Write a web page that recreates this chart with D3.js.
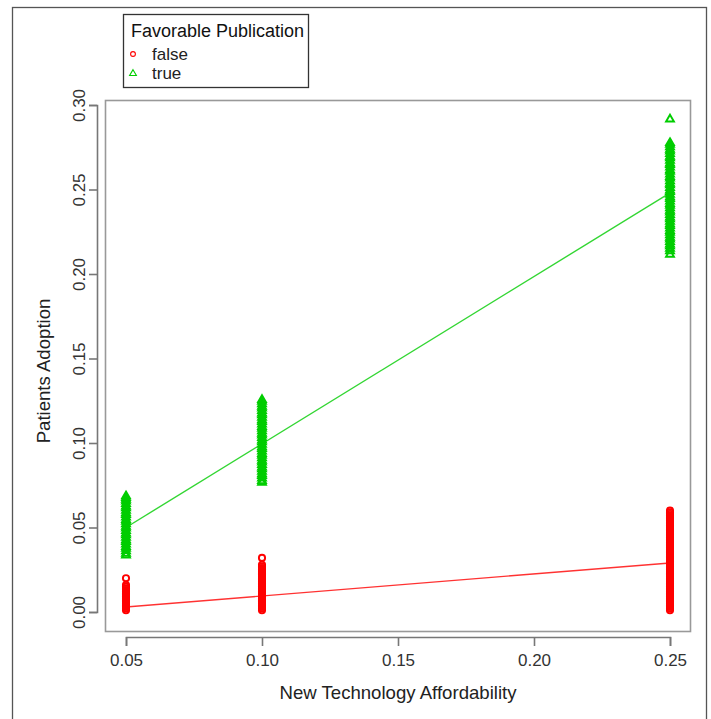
<!DOCTYPE html>
<html>
<head>
<meta charset="utf-8">
<script src="https://cdn.jsdelivr.net/npm/d3@7"></script>
<style>
  html, body { margin: 0; padding: 0; background: #fff; }
  svg { display: block; }
  text { font-family: "Liberation Sans", Arial, sans-serif; }
</style>
</head>
<body>
<script>
// Affordability levels on the x axis
const affordability = [0.05, 0.10, 0.25];
const xTicks = [0.05, 0.10, 0.15, 0.20, 0.25];
const yTicks = [0.00, 0.05, 0.10, 0.15, 0.20, 0.25, 0.30];

// Observed adoption per run, unfavourable publication (false)
const falseAt005 = [0.001, 0.002, 0.003, 0.004, 0.005, 0.006, 0.007, 0.008, 0.009, 0.010, 0.011, 0.012, 0.013, 0.014, 0.015, 0.016, 0.020];
const falseAt010 = [0.001, 0.002, 0.003, 0.004, 0.005, 0.006, 0.007, 0.008, 0.009, 0.010, 0.011, 0.012, 0.013, 0.014, 0.015,
  0.016, 0.017, 0.018, 0.019, 0.020, 0.021, 0.022, 0.023, 0.024, 0.025, 0.026, 0.027, 0.028, 0.032];
const falseAt025 = [0.001, 0.002, 0.003, 0.004, 0.005, 0.006, 0.007, 0.008, 0.009, 0.010, 0.011, 0.012, 0.013, 0.014, 0.015,
  0.016, 0.017, 0.018, 0.019, 0.020, 0.021, 0.022, 0.023, 0.024, 0.025, 0.026, 0.027, 0.028, 0.029, 0.030,
  0.031, 0.032, 0.033, 0.034, 0.035, 0.036, 0.037, 0.038, 0.039, 0.040, 0.041, 0.042, 0.043, 0.044, 0.045,
  0.046, 0.047, 0.048, 0.049, 0.050, 0.051, 0.052, 0.053, 0.054, 0.055, 0.056, 0.057, 0.058, 0.059, 0.060];

// Observed adoption per run, favourable publication (true)
const trueAt005 = [0.034, 0.035, 0.0365, 0.038, 0.039, 0.0405, 0.042, 0.043, 0.0445, 0.046, 0.047, 0.0485, 0.050, 0.051,
  0.0525, 0.054, 0.055, 0.0565, 0.058, 0.059, 0.0605, 0.062, 0.063, 0.0645, 0.066, 0.067, 0.068, 0.069];
const trueAt010 = [0.077, 0.078, 0.0795, 0.081, 0.082, 0.0835, 0.085, 0.086, 0.0875, 0.089, 0.090, 0.0915, 0.093, 0.094,
  0.0955, 0.097, 0.098, 0.0995, 0.101, 0.102, 0.1035, 0.105, 0.106, 0.1075, 0.109, 0.110, 0.1115, 0.113,
  0.114, 0.1155, 0.117, 0.118, 0.1195, 0.121, 0.122, 0.1235, 0.125, 0.126];
const trueAt025 = [0.212, 0.214, 0.2155, 0.217, 0.218, 0.2195, 0.221, 0.222, 0.2235, 0.225, 0.226, 0.2275, 0.229, 0.230,
  0.2315, 0.233, 0.234, 0.2355, 0.237, 0.238, 0.2395, 0.241, 0.242, 0.2435, 0.245, 0.246, 0.2475, 0.249,
  0.250, 0.2515, 0.253, 0.254, 0.2555, 0.257, 0.258, 0.2595, 0.261, 0.262, 0.2635, 0.265, 0.266, 0.2675,
  0.269, 0.270, 0.2715, 0.273, 0.274, 0.2755, 0.277, 0.278, 0.292];

// Fitted linear trend endpoints (at x = 0.05 and x = 0.25)
const falseFit = [0.003, 0.029];
const trueFit = [0.050, 0.248];

const groups = [
  { name: "false", color: "#ff0000", shape: "circle", clusters: [falseAt005, falseAt010, falseAt025], fit: falseFit },
  { name: "true", color: "#00cd00", shape: "triangle", clusters: [trueAt005, trueAt010, trueAt025], fit: trueFit }
];

const W = 711, H = 719;
const svg = d3.select("body").append("svg").attr("width", W).attr("height", H);

// outer frame
svg.append("rect").attr("x", 12.5).attr("y", 7.5).attr("width", 694).attr("height", 740)
  .attr("fill", "none").attr("stroke", "#555").attr("stroke-width", 1.3);

const x = d3.scaleLinear().domain([0.05, 0.25]).range([126, 670]);
const y = d3.scaleLinear().domain([0, 0.30]).range([612, 105]);

// plot box
svg.append("rect").attr("x", 105.5).attr("y", 100.5).attr("width", 585).attr("height", 531)
  .attr("fill", "none").attr("stroke", "#999").attr("stroke-width", 1.6);

// axes
const xAxis = svg.append("g").attr("transform", "translate(0,637)")
  .call(d3.axisBottom(x).tickValues(xTicks).tickFormat(d3.format(".2f")).tickSize(9).tickPadding(8));
const yAxis = svg.append("g").attr("transform", "translate(97,0)")
  .call(d3.axisLeft(y).tickValues(yTicks).tickFormat(d3.format(".2f")).tickSize(8).tickPadding(6));
[xAxis, yAxis].forEach(a => {
  a.select(".domain").attr("stroke", "#777").attr("stroke-width", 1.6);
  a.selectAll(".tick line").attr("stroke", "#777").attr("stroke-width", 1.6);
  a.selectAll(".tick text").attr("fill", "#333").style("font-size", "17px")
    .style("font-family", "'Liberation Sans', Arial, sans-serif");
});
yAxis.selectAll(".tick text")
  .attr("transform", "rotate(-90, -18, 0)")
  .attr("x", -18).attr("dy", "0.35em").attr("y", 0)
  .attr("text-anchor", "middle");

// axis titles
svg.append("text").attr("x", 398).attr("y", 699).attr("text-anchor", "middle")
  .attr("fill", "#222").style("font-size", "18.6px").text("New Technology Affordability");
svg.append("text").attr("transform", "translate(50,371) rotate(-90)").attr("text-anchor", "middle")
  .attr("fill", "#222").style("font-size", "18.6px").text("Patients Adoption");

const plot = svg.append("g");
const tri = d3.symbol().type(d3.symbolTriangle).size(27);

function drawMark(sel, shape, color, cx, cy) {
  if (shape === "circle") {
    sel.append("circle").attr("cx", cx).attr("cy", cy).attr("r", 3.1)
      .attr("fill", "none").attr("stroke", color).attr("stroke-width", 1.9);
  } else {
    sel.append("path").attr("d", tri).attr("transform", `translate(${cx},${cy + 0.7})`)
      .attr("fill", "none").attr("stroke", color).attr("stroke-width", 1.9);
  }
}

groups.forEach(g => {
  // points
  g.clusters.forEach((vals, i) => {
    const cx = x(affordability[i]);
    vals.forEach(v => drawMark(plot, g.shape, g.color, cx, y(v)));
  });
  // fitted line
  plot.append("line")
    .attr("x1", x(affordability[0])).attr("y1", y(g.fit[0]))
    .attr("x2", x(affordability[2])).attr("y2", y(g.fit[1]))
    .attr("stroke", g.color).attr("stroke-width", 1.4).attr("opacity", 0.8);
});

// legend
const lg = svg.append("g");
lg.append("rect").attr("x", 123.5).attr("y", 14.5).attr("width", 185).attr("height", 73)
  .attr("fill", "#fff").attr("stroke", "#333").attr("stroke-width", 1.3);
lg.append("text").attr("x", 131).attr("y", 37).attr("fill", "#111").style("font-size", "18px")
  .text("Favorable Publication");
groups.forEach((g, i) => {
  const cy = 54 + i * 19;
  if (g.shape === "circle") {
    lg.append("circle").attr("cx", 133).attr("cy", cy).attr("r", 2.4)
      .attr("fill", "none").attr("stroke", g.color).attr("stroke-width", 1.1);
  } else {
    lg.append("path").attr("d", d3.symbol().type(d3.symbolTriangle).size(20))
      .attr("transform", `translate(133,${cy + 0.6})`)
      .attr("fill", "none").attr("stroke", g.color).attr("stroke-width", 1.1);
  }
  lg.append("text").attr("x", 152).attr("y", cy + 6).attr("fill", "#222").style("font-size", "17px")
    .text(g.name);
});
</script>
</body>
</html>
